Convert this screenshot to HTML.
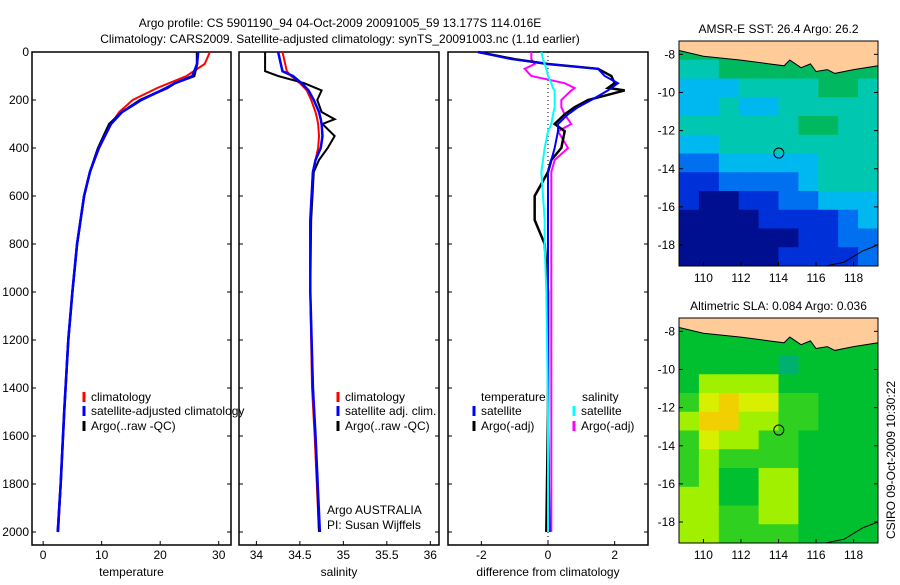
<!DOCTYPE html>
<html><head><meta charset="utf-8"><style>
body{margin:0;background:#fff;}
svg text{font-family:"Liberation Sans",sans-serif;font-size:12px;fill:#000;}
</style></head><body>
<svg id="fig" width="900" height="580" xmlns="http://www.w3.org/2000/svg">
<text x="340" y="27" text-anchor="middle">Argo profile: CS 5901190_94 04-Oct-2009 20091005_59 13.177S 114.016E</text>
<text x="340" y="43" text-anchor="middle">Climatology: CARS2009. Satellite-adjusted climatology: synTS_20091003.nc (1.1d earlier)</text>
<text transform="translate(895,460) rotate(-90)" text-anchor="middle">CSIRO 09-Oct-2009 10:30:22</text>
<g id="g"></g>
</svg>
<script>
// ---- profile data (depth in m) ----
const tDepth=[0,50,100,130,150,200,250,300,400,500,600,800,1000,1200,1500,1800,2000];
const tClim=[28.5,27.6,24.5,21.5,19.5,15.3,13,11.6,9.6,8,7,5.8,5,4.3,3.6,3,2.6];
const tSat=[26.5,26.3,25.5,22.5,21,16.8,13.5,11.6,9.5,8,7,5.8,5,4.3,3.6,3,2.5];
const tArgo=[26.3,26.3,25.8,22.5,21.2,16.6,13.5,11.3,9.4,8,7,5.8,5,4.3,3.6,3,2.5];
const sDepth=[0,80,100,130,160,200,250,280,300,350,400,450,500,700,1000,1400,1600,2000];
const sClim=[34.3,34.35,34.4,34.5,34.58,34.63,34.68,34.7,34.71,34.72,34.71,34.68,34.65,34.62,34.62,34.64,34.67,34.72];
const sSat=[34.25,34.3,34.42,34.52,34.6,34.66,34.72,34.74,34.75,34.76,34.74,34.68,34.65,34.62,34.62,34.65,34.68,34.73];
const sArgo=[34.1,34.1,34.25,34.55,34.75,34.7,34.75,34.9,34.76,34.9,34.82,34.72,34.66,34.63,34.62,34.65,34.68,34.72];
const dDepth=[0,30,50,70,100,130,150,160,200,230,260,300,330,400,450,500,600,700,800,1000,1500,2000];
const dTempArgo=[-2.1,-1,0,1.5,1.9,2,1.8,2.3,1.2,0.8,0.5,0.2,0.5,0.4,0.1,0,-0.4,-0.4,-0.1,0,0,-0.05];
const dTempSat=[-2.1,-1.1,0,1.5,1.7,2.1,1.9,1.8,1.3,0.9,0.6,0.3,0.3,0.2,0.1,0,0,0,0,0,0,0.05];
const dSalArgo=[-0.5,-0.5,-0.4,-0.7,-0.5,0.5,0.8,0.7,0.4,0.4,0.5,0.7,0.3,0.6,0.2,0.1,0.1,0.1,0.1,0.1,0.1,0.1];
const dSalSat=[-0.2,-0.15,-0.1,-0.05,0,0.1,0.15,0.2,0.2,0.2,0.15,0.1,0,-0.1,-0.15,-0.2,-0.15,-0.1,-0.1,-0.05,0,0];
const depthTicks=[0,200,400,600,800,1000,1200,1400,1600,1800,2000];
const tTicks=[0,10,20,30], sTicks=[34,34.5,35,35.5,36], dTicks=[-2,0,2];
// ---- map grids (rows lat -7.5..-19, cols lon 109..119) ----
const sstGrid=[
"5555555555",
"4455555555",
"3334444554",
"3343344444",
"4444445544",
"3344444444",
"2233333444",
"1122223444",
"1001122333",
"0000111123",
"0000001122",
"0000011112"];
const slaGrid=[
"5555555555",
"5555555555",
"5555545555",
"5777755555",
"6898866555",
"7997766555",
"6877665555",
"6766665555",
"6755775555",
"7755775555",
"7766775555",
"7766665555"];
const NS="http://www.w3.org/2000/svg";
const G=document.getElementById('g');
function el(t,a,p){const e=document.createElementNS(NS,t);for(const k in a)e.setAttribute(k,a[k]);(p||G).appendChild(e);return e;}
const top0=52, pxm=0.24, bot=545;
const yD=d=>top0+d*pxm;
function panel(name,x0,x1,lo,hi,ticks,label,showY){
  const xs=v=>x0+(v-lo)/(hi-lo)*(x1-x0);
  const r=el('rect',{x:x0,y:top0,width:x1-x0,height:bot-top0,fill:'none',stroke:'#000','stroke-width':1.5});
  
  
  depthTicks.forEach(d=>{
    el('line',{x1:x0,x2:x0+4,y1:yD(d),y2:yD(d),stroke:'#000'});
    el('line',{x1:x1-4,x2:x1,y1:yD(d),y2:yD(d),stroke:'#000'});
    if(showY){const t=el('text',{x:x0-3,y:yD(d)+4,'text-anchor':'end'});t.textContent=d;
      
      }
  });
  ticks.forEach(v=>{
    el('line',{x1:xs(v),x2:xs(v),y1:bot,y2:bot-4,stroke:'#000'});
    const t=el('text',{x:xs(v),y:bot+14,'text-anchor':'middle'});t.textContent=v;
    
    
  });
  const t=el('text',{x:(x0+x1)/2,y:bot+31,'text-anchor':'middle'});t.textContent=label;
  
  
  return xs;
}
function line(xs,depths,vals,color,w,name){
  const p=el('polyline',{points:depths.map((d,i)=>xs(vals[i])+','+yD(d)).join(' '),fill:'none',stroke:color,'stroke-width':w});
  
  
}
function legend(x,y,color,label,name){
  el('line',{x1:x,x2:x,y1:y-9,y2:y+1,stroke:color,'stroke-width':3});
  const t=el('text',{x:x+7,y:y});t.textContent=label;
  
  
}
const xT=panel('temperature',32,231,-1.9,32.1,tTicks,'temperature',true);
line(xT,tDepth,tClim,'#f00',2,'temp-climatology-line');
line(xT,tDepth,tArgo,'#000',2.5,'temp-argo-line');
line(xT,tDepth,tSat,'#00f',2.5,'temp-satellite-line');
legend(84,401,'#f00','climatology','legend-climatology');
legend(84,415,'#00f','satellite-adjusted climatology','legend-satellite');
legend(84,430,'#000','Argo(..raw -QC)','legend-argo');
const xS=panel('salinity',239,439,33.8,36.1,sTicks,'salinity',false);
line(xS,sDepth,sClim,'#f00',2,'sal-climatology-line');
line(xS,sDepth,sArgo,'#000',2,'sal-argo-line');
line(xS,sDepth,sSat,'#00f',2.5,'sal-satellite-line');
legend(338,401,'#f00','climatology','legend-sal-climatology');
legend(338,415,'#00f','satellite adj. clim.','legend-sal-satellite');
legend(338,430,'#000','Argo(..raw -QC)','legend-sal-argo');
[['Argo AUSTRALIA',514],['PI: Susan Wijffels',529]].forEach(a=>{const t=el('text',{x:327,y:a[1]});t.textContent=a[0];
  
  });
const xDf=panel('difference',448,648,-3,3,dTicks,'difference from climatology',false);
el('line',{x1:xDf(0),x2:xDf(0),y1:top0,y2:bot,stroke:'#000','stroke-dasharray':'1,3'});
line(xDf,dDepth,dSalArgo,'#f0f',2,'diff-sal-argo-line');
line(xDf,dDepth,dTempArgo,'#000',2.5,'diff-temp-argo-line');
line(xDf,dDepth,dTempSat,'#00f',2,'diff-temp-satellite-line');
line(xDf,dDepth,dSalSat,'#0ff',2,'diff-sal-satellite-line');
{const t=el('text',{x:481,y:401});t.textContent='temperature';}
{const t=el('text',{x:582,y:401});t.textContent='salinity';}
legend(474,415,'#00f','satellite','legend-diff-temp-sat');
legend(474,430,'#000','Argo(-adj)','legend-diff-temp-argo');
legend(574,415,'#0ff','satellite','legend-diff-sal-sat');
legend(574,430,'#f0f','Argo(-adj)','legend-diff-sal-argo');
// ---- maps ----
const sstCols=['#000e90','#0030d8','#0070f0','#00b8f0','#00c8b0','#00b860'];
const slaCols=['#00c030','#00c030','#00c030','#00c030','#00b070','#00c030','#30d020','#a0f000','#d8f000','#f0d000'];
function map(name,title,y0,y1,grid,cols){
  const x0=679,x1=878,lon0=108.7,lon1=119.3,lat0=-7.3,lat1=-19.1;
  const lx=v=>x0+(v-lon0)/(lon1-lon0)*(x1-x0);
  const ly=v=>y0+(v-lat0)/(lat1-lat0)*(y1-y0);
  const tt=el('text',{x:(x0+x1)/2,y:y0-8,'text-anchor':'middle'});tt.textContent=title;
  
  
  const R=grid.length,C=grid[0].length,cw=(x1-x0)/C,ch=(y1-y0)/R;
  grid.forEach((row,r)=>{for(let c=0;c<C;c++){
    const cell=el('rect',{x:x0+c*cw,y:y0+r*ch,width:cw+0.5,height:ch+0.5,fill:cols[+row[c]]});
    
    
  }});
  const land=[[108.7,-7.3],[108.7,-7.8],[110,-8.1],[112,-8.3],[113.5,-8.5],[114.3,-8.6],[114.6,-8.3],[115.2,-8.7],[115.7,-8.5],[116,-8.9],[116.6,-8.8],[117,-9],[118,-8.8],[119.3,-8.6],[119.3,-7.3]];
  const lp=el('polygon',{points:land.map(p=>lx(p[0])+','+ly(p[1])).join(' '),fill:'#ffcc99',stroke:'#000','stroke-width':1});
  
  
  el('polyline',{points:[[116.5,-19.1],[117.5,-18.9],[118.5,-18.3],[119.3,-18]].map(p=>lx(p[0])+','+ly(p[1])).join(' '),fill:'none',stroke:'#000'});
  const mk=el('circle',{cx:lx(114.016),cy:ly(-13.177),r:5,fill:'none',stroke:'#000'});
  
  
  el('rect',{x:x0,y:y0,width:x1-x0,height:y1-y0,fill:'none',stroke:'#000'});
  [-8,-10,-12,-14,-16,-18].forEach(v=>{el('line',{x1:x0,x2:x0+4,y1:ly(v),y2:ly(v),stroke:'#000'});el('line',{x1:x1-4,x2:x1,y1:ly(v),y2:ly(v),stroke:'#000'});
    const t=el('text',{x:x0-4,y:ly(v)+4,'text-anchor':'end'});t.textContent=v;
    
    });
  [110,112,114,116,118].forEach(v=>{el('line',{x1:lx(v),x2:lx(v),y1:y1,y2:y1-4,stroke:'#000'});
    const t=el('text',{x:lx(v),y:y1+16,'text-anchor':'middle'});t.textContent=v;
    
    });
}
map('sst-map','AMSR-E SST: 26.4  Argo: 26.2',41,266,sstGrid,sstCols);
map('sla-map','Altimetric SLA: 0.084  Argo: 0.036',318,543,slaGrid,slaCols);
</script>
</body></html>
